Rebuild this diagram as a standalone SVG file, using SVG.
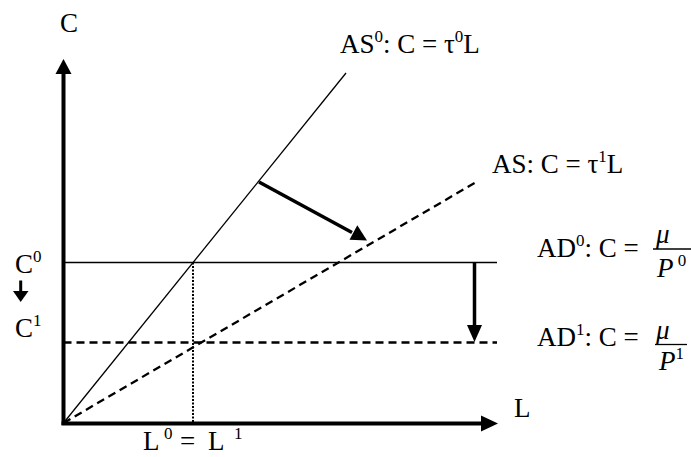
<svg xmlns="http://www.w3.org/2000/svg" width="691" height="457" viewBox="0 0 691 457">
<style>
text { font-family: "Liberation Serif", "Times New Roman", serif; font-size: 27px; fill: #000; }
.sup { font-size: 17px; }
.it { font-style: italic; }
.thin { stroke: #000; stroke-width: 1.3; fill: none; }
.dash { stroke: #000; stroke-width: 2.3; stroke-dasharray: 8 5; fill: none; }
.dot { stroke: #000; stroke-width: 2; stroke-dasharray: 2 1.5; fill: none; }
.axis { stroke: #000; stroke-width: 4; fill: none; }
.arr { stroke: #000; stroke-width: 3.5; fill: none; }
</style>
<rect width="691" height="457" fill="#fff"/>
<g id="connectors">
  <line class="axis" x1="63.5" y1="425" x2="63.5" y2="72"/>
  <polygon points="63.5,59 55.5,74 71.5,74"/>
  <line class="axis" x1="61.5" y1="423.5" x2="482" y2="423.5"/>
  <polygon points="498,423.5 481,415.5 481,431.5"/>
  <line class="thin" x1="63.5" y1="423" x2="346" y2="73"/>
  <line class="dash" x1="63.5" y1="423" x2="478" y2="181"/>
  <line class="thin" x1="63.5" y1="262.5" x2="497" y2="262.5"/>
  <line class="dash" x1="63.5" y1="342.5" x2="497" y2="342.5"/>
  <line class="dot" x1="193" y1="262.5" x2="193" y2="422"/>
  <line class="arr" x1="259" y1="182" x2="352" y2="232.5"/>
  <polygon points="367,240.5 349.5,239.8 357.3,225.3"/>
  <line class="arr" x1="474.5" y1="262.5" x2="474.5" y2="328"/>
  <polygon points="474.5,342 467,325 482,325"/>
  <line class="arr" x1="20.7" y1="280.5" x2="20.7" y2="292" style="stroke-width:3"/>
  <polygon points="20.7,302 13,291 28.5,291"/>
</g>
<g id="axis-labels">
  <text x="60" y="32">C</text>
  <text x="514" y="417">L</text>
  <text x="15" y="273">C<tspan class="sup" dy="-11">0</tspan></text>
  <text x="15" y="337">C<tspan class="sup" dy="-11">1</tspan></text>
  <text x="143" y="450">L<tspan class="sup" x="164" dy="-11">0</tspan><tspan x="180" dy="11">=</tspan><tspan x="208">L</tspan><tspan class="sup" x="234" dy="-11">1</tspan></text>
</g>
<g id="AS0">
  <text x="340" y="53">AS<tspan class="sup" dy="-11">0</tspan><tspan dy="11">: C = τ</tspan><tspan class="sup" dy="-11">0</tspan><tspan dy="11">L</tspan></text>
</g>
<g id="AS1">
  <text x="492" y="173">AS: C = τ<tspan class="sup" dy="-11">1</tspan><tspan dy="11">L</tspan></text>
</g>
<g id="AD0">
  <text x="537" y="257">AD<tspan class="sup" dy="-11">0</tspan><tspan dy="11">: C = </tspan></text>
  <text class="it" x="656" y="243">μ</text>
  <line x1="653" y1="249" x2="691" y2="249" stroke="#000" stroke-width="1.3"/>
  <text class="it" x="657" y="277">P<tspan class="sup" dy="-11" style="font-style:normal"> 0</tspan></text>
</g>
<g id="AD1">
  <text x="537" y="346">AD<tspan class="sup" dy="-11">1</tspan><tspan dy="11">: C = </tspan></text>
  <text class="it" x="656" y="339">μ</text>
  <line x1="655" y1="344.5" x2="687" y2="344.5" stroke="#000" stroke-width="1.3"/>
  <text class="it" x="659" y="370">P<tspan class="sup" dy="-11" style="font-style:normal">1</tspan></text>
</g>
</svg>
